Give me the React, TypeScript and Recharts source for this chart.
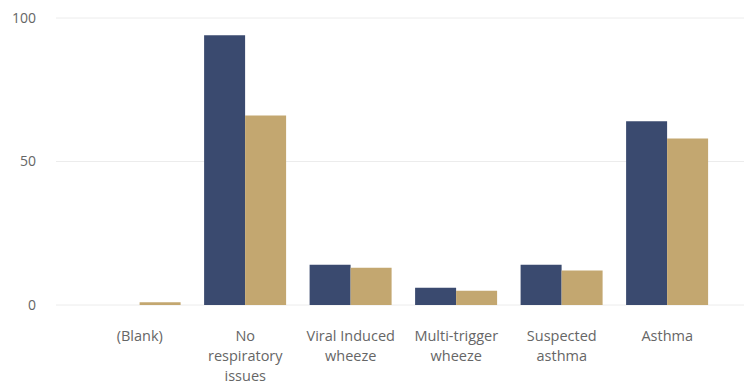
import React from 'react';
import { BarChart, Bar, XAxis, YAxis, CartesianGrid } from 'recharts';

const categories = ['(Blank)', 'No respiratory issues', 'Viral Induced wheeze', 'Multi-trigger wheeze', 'Suspected asthma', 'Asthma'];
const tickLines: Record<string, string[]> = {
   '(Blank)': ['(Blank)'],
   'No respiratory issues': ['No', 'respiratory', 'issues'],
   'Viral Induced wheeze': ['Viral Induced', 'wheeze'],
   'Multi-trigger wheeze': ['Multi-trigger', 'wheeze'],
   'Suspected asthma': ['Suspected', 'asthma'],
   Asthma: ['Asthma'],
};
const seriesA = [0, 94, 14, 6, 14, 64];
const seriesB = [1, 66, 13, 5, 12, 58];
const yTicks = [0, 50, 100];

const NAVY = '#3a4a6f';
const TAN = '#c3a770';
const FONT = '"Open Sans", "DejaVu Sans", sans-serif';

const data = categories.map((name, i) => ({ name, a: seriesA[i], b: seriesB[i] }));

function CategoryTick(props: any) {
   const { x, y, payload } = props;
   const lines = tickLines[payload.value] || [payload.value];
   return (
      <g transform={`translate(${x},${y})`}>
         <text textAnchor="middle" fill="#666" fontSize={14.5} fontFamily={FONT}>
            {lines.map((line, i) => (
               <tspan key={i} x={0} y={28 + i * 20}>
                  {line}
               </tspan>
            ))}
         </text>
      </g>
   );
}

export default function App() {
   return (
      <div style={{ position: 'absolute', left: 0, top: 0, width: 744, height: 382, background: '#fff' }}>
         <BarChart
            width={744}
            height={382}
            data={data}
            margin={{ top: 18, right: 0, bottom: 0, left: 0 }}
            barCategoryGap="11%"
            barGap={0}
         >
            <CartesianGrid vertical={false} stroke="#ececec" strokeWidth={1} />
            <XAxis
               dataKey="name"
               axisLine={false}
               tickLine={false}
               height={77}
               interval={0}
               padding={{ left: 31, right: 24 }}
               tick={<CategoryTick />}
            />
            <YAxis
               width={56}
               domain={[0, 100]}
               ticks={yTicks}
               axisLine={false}
               tickLine={false}
               tickMargin={14}
               tick={{ fill: '#666', fontSize: 14, fontFamily: FONT }}
            />
            <Bar dataKey="a" fill={NAVY} isAnimationActive={false} />
            <Bar dataKey="b" fill={TAN} isAnimationActive={false} />
         </BarChart>
      </div>
   );
}
